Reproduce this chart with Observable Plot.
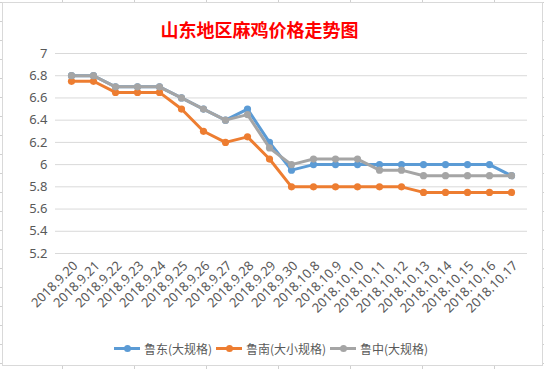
<!DOCTYPE html>
<html>
<head>
<meta charset="utf-8">
<script src="https://cdn.jsdelivr.net/npm/d3@7"></script>
<script src="https://cdn.jsdelivr.net/npm/@observablehq/plot@0.6"></script>
<style>
  html, body { margin: 0; padding: 0; background: #fff; }
  #outer {
    position: relative; width: 544px; height: 369px; overflow: hidden;
    background-color: #fff;
    background-image:
      repeating-linear-gradient(90deg, transparent 0, transparent 62px, #d0d0d0 62px, #d0d0d0 63px, transparent 63px, transparent 72px),
      repeating-linear-gradient(180deg, transparent 0, transparent 2px, #d0d0d0 2px, #d0d0d0 3px, transparent 3px, transparent 19px);
  }
  #chart {
    position: absolute; left: 2px; top: 2px; width: 539px; height: 362px;
    border: 1px solid #d9d9d9; background: #fff;
  }
  #title {
    position: absolute; left: 0; top: 16px; width: 519px; text-align: center;
    font-family: "Noto Sans CJK SC", sans-serif; font-size: 18px; font-weight: bold; color: #ff0000;
  }
  #plot { position: absolute; left: 0; top: 0; }
  #legend {
    position: absolute; left: 0; top: 338px; width: 544px; height: 20px;
    font-family: "Noto Sans CJK SC", sans-serif; font-size: 12px; color: #595959;
  }
  .item { position: absolute; top: 0; display: flex; align-items: center; height: 20px; }
  .sw { position: relative; width: 26px; height: 20px; margin-right: 4px; }
  .sw .ln { position: absolute; left: 0; top: 8.5px; width: 26px; height: 3px; }
  .sw .dt { position: absolute; left: 9.5px; top: 6.5px; width: 7px; height: 7px; border-radius: 50%; }
</style>
</head>
<body>
<div id="outer">
  <div id="chart"></div>
  <div id="title">山东地区麻鸡价格走势图</div>
  <div id="plot"></div>
  <div id="legend"></div>
</div>
<script>
const dates = ["2018.9.20","2018.9.21","2018.9.22","2018.9.23","2018.9.24","2018.9.25","2018.9.26","2018.9.27","2018.9.28","2018.9.29","2018.9.30","2018.10.8","2018.10.9","2018.10.10","2018.10.11","2018.10.12","2018.10.13","2018.10.14","2018.10.15","2018.10.16","2018.10.17"];
const seriesNames = ["鲁东(大规格)", "鲁南(大小规格)", "鲁中(大规格)"];
const ludong = [6.8, 6.8, 6.7, 6.7, 6.7, 6.6, 6.5, 6.4, 6.5, 6.2, 5.95, 6.0, 6.0, 6.0, 6.0, 6.0, 6.0, 6.0, 6.0, 6.0, 5.9];
const lunan  = [6.75, 6.75, 6.65, 6.65, 6.65, 6.5, 6.3, 6.2, 6.25, 6.05, 5.8, 5.8, 5.8, 5.8, 5.8, 5.8, 5.75, 5.75, 5.75, 5.75, 5.75];
const luzhong = [6.8, 6.8, 6.7, 6.7, 6.7, 6.6, 6.5, 6.4, 6.45, 6.15, 6.0, 6.05, 6.05, 6.05, 5.95, 5.95, 5.9, 5.9, 5.9, 5.9, 5.9];
const yTicks = [5.2, 5.4, 5.6, 5.8, 6, 6.2, 6.4, 6.6, 6.8, 7];
const colors = ["#5B9BD5", "#ED7D31", "#A5A5A5"];

const allValues = [ludong, lunan, luzhong];
const rows = allValues.map((vals, s) => dates.map((d, i) => ({date: d, value: vals[i], series: seriesNames[s]})));

const marks = [
  Plot.ruleY(yTicks, {stroke: "#d9d9d9", strokeWidth: 1}),
  Plot.axisY({ticks: yTicks, tickSize: 0, tickPadding: 8, fontSize: 13, tickFormat: d => String(d), label: null}),
  Plot.axisX({tickSize: 0, tickRotate: -45, tickPadding: 10, fontSize: 13, label: null, dx: 4})
];
rows.forEach((r, s) => {
  marks.push(Plot.line(r, {x: "date", y: "value", stroke: colors[s], strokeWidth: 3, strokeLinejoin: "round", strokeLinecap: "round"}));
  marks.push(Plot.dot(r, {x: "date", y: "value", fill: colors[s], r: 3.6, stroke: "none"}));
});

const chart = Plot.plot({
  width: 544, height: 320,
  marginTop: 53, marginBottom: 67, marginLeft: 55, marginRight: 17,
  x: {type: "point", domain: dates, padding: 0.5},
  y: {domain: [5.2, 7]},
  style: {fontFamily: "'Noto Sans', 'Noto Sans CJK SC', sans-serif", color: "#595959", background: "transparent"},
  marks
});
document.getElementById("plot").appendChild(chart);

const legendPos = [114, 216, 330];
const legend = document.getElementById("legend");
seriesNames.forEach((name, s) => {
  const it = document.createElement("div");
  it.className = "item";
  it.style.left = legendPos[s] + "px";
  it.innerHTML = `<div class="sw"><div class="ln" style="background:${colors[s]}"></div><div class="dt" style="background:${colors[s]}"></div></div><span>${name}</span>`;
  legend.appendChild(it);
});
</script>
</body>
</html>
